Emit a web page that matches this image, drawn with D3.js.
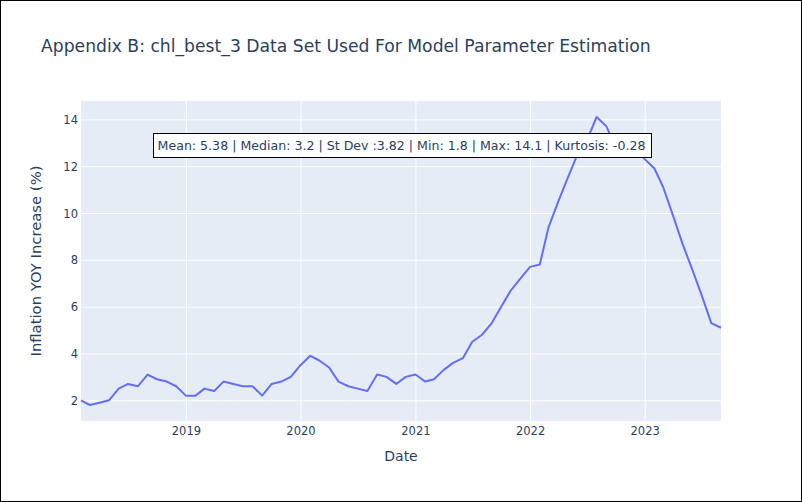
<!DOCTYPE html>
<html>
<head>
<meta charset="utf-8">
<script src="https://cdn.jsdelivr.net/npm/d3@7"></script>
<style>
  html, body { margin: 0; padding: 0; background: #fff; }
  svg { display: block; }
  text { font-family: "DejaVu Sans", verdana, arial, sans-serif; fill: #2a3f5f; }
</style>
</head>
<body>
<script>
// ---- Data ----
const startMonth = "2018-02";
const values2018 = [2.0, 1.8, 1.9, 2.0, 2.5, 2.7, 2.6, 3.1, 2.9, 2.8, 2.6];
const values2019 = [2.2, 2.2, 2.5, 2.4, 2.8, 2.7, 2.6, 2.6, 2.2, 2.7, 2.8, 3.0];
const values2020 = [3.5, 3.9, 3.7, 3.4, 2.8, 2.6, 2.5, 2.4, 3.1, 3.0, 2.7, 3.0];
const values2021 = [3.1, 2.8, 2.9, 3.3, 3.6, 3.8, 4.5, 4.8, 5.3, 6.0, 6.7, 7.2];
const values2022 = [7.7, 7.8, 9.4, 10.5, 11.5, 12.5, 13.1, 14.1, 13.7, 12.8, 13.3, 12.8];
const values2023 = [12.3, 11.9, 11.1, 9.9, 8.7, 7.6, 6.5, 5.3, 5.1];
const yTicks = [2, 4, 6, 8, 10, 12, 14];
const xTickYears = [2019, 2020, 2021, 2022, 2023];
const titleText = "Appendix B: chl_best_3 Data Set Used For Model Parameter Estimation";
const xTitle = "Date";
const yTitle = "Inflation YOY Increase (%)";
const statsText = "Mean: 5.38 | Median: 3.2 | St Dev :3.82 | Min: 1.8 | Max: 14.1 | Kurtosis: -0.28";

const allValues = [].concat(values2018, values2019, values2020, values2021, values2022, values2023);
const parseMonth = d3.timeParse("%Y-%m");
const start = parseMonth(startMonth);
const data = allValues.map((v, i) => ({ date: d3.timeMonth.offset(start, i), value: v }));

// ---- Layout ----
const W = 802, H = 502;
const plot = { left: 81, right: 721, top: 101, bottom: 421 };

const svg = d3.select("body").append("svg").attr("width", W).attr("height", H);
svg.append("rect").attr("x", 0.5).attr("y", 0.5).attr("width", W - 1).attr("height", H - 1)
  .attr("fill", "#fff").attr("stroke", "#000").attr("stroke-width", 1);

const x = d3.scaleTime()
  .domain(d3.extent(data, d => d.date))
  .range([plot.left, plot.right]);

const [ymin, ymax] = d3.extent(data, d => d.value);
const padPx = 16;
const plotH = plot.bottom - plot.top;
const pad = (ymax - ymin) * padPx / (plotH - 2 * padPx);
const y = d3.scaleLinear().domain([ymin - pad, ymax + pad]).range([plot.bottom, plot.top]);

svg.append("rect").attr("x", plot.left).attr("y", plot.top)
  .attr("width", plot.right - plot.left).attr("height", plot.bottom - plot.top)
  .attr("fill", "#e5ecf6");

const xTickDates = xTickYears.map(yr => new Date(yr, 0, 1));

// gridlines
const gx = svg.append("g").attr("transform", `translate(0,${plot.bottom})`)
  .call(d3.axisBottom(x).tickValues(xTickDates).tickSize(-(plot.bottom - plot.top)).tickFormat(d3.timeFormat("%Y")));
gx.select(".domain").remove();
gx.selectAll("line").attr("stroke", "#fff").attr("stroke-width", 1);
gx.selectAll("text").attr("font-size", 11.5).attr("dy", 0).attr("y", 13.5).style("fill", "#2a3f5f");

const gy = svg.append("g").attr("transform", `translate(${plot.left},0)`)
  .call(d3.axisLeft(y).tickValues(yTicks).tickSize(-(plot.right - plot.left)).tickPadding(3));
gy.select(".domain").remove();
gy.selectAll("line").attr("stroke", "#fff").attr("stroke-width", 1);
gy.selectAll("text").attr("font-size", 11.5).attr("dy", "0.35em").style("fill", "#2a3f5f");

// line
const line = d3.line().x(d => x(d.date)).y(d => y(d.value));
svg.append("path").datum(data)
  .attr("fill", "none").attr("stroke", "#636efa").attr("stroke-width", 2)
  .attr("stroke-linejoin", "round").attr("d", line);

// title
svg.append("text").attr("x", 41).attr("y", 52).attr("font-size", 17.2).text(titleText);

// axis titles
svg.append("text").attr("x", (plot.left + plot.right) / 2).attr("y", 461)
  .attr("text-anchor", "middle").attr("font-size", 14).text(xTitle);
svg.append("text")
  .attr("transform", `translate(41,${(plot.top + plot.bottom) / 2}) rotate(-90)`)
  .attr("text-anchor", "middle").attr("font-size", 14.8).text(yTitle);

// stats annotation
const ann = svg.append("g");
const annText = ann.append("text")
  .attr("x", 401.5).attr("y", 145.5)
  .attr("dy", "0.35em").attr("text-anchor", "middle").attr("font-size", 12.6)
  .text(statsText);
const bb = annText.node().getBBox();
ann.insert("rect", "text")
  .attr("x", Math.round(bb.x - 5) + 0.5).attr("y", 133.5)
  .attr("width", Math.round(bb.width + 10)).attr("height", 24)
  .attr("fill", "#fff").attr("stroke", "#000").attr("stroke-width", 1);
</script>
</body>
</html>
